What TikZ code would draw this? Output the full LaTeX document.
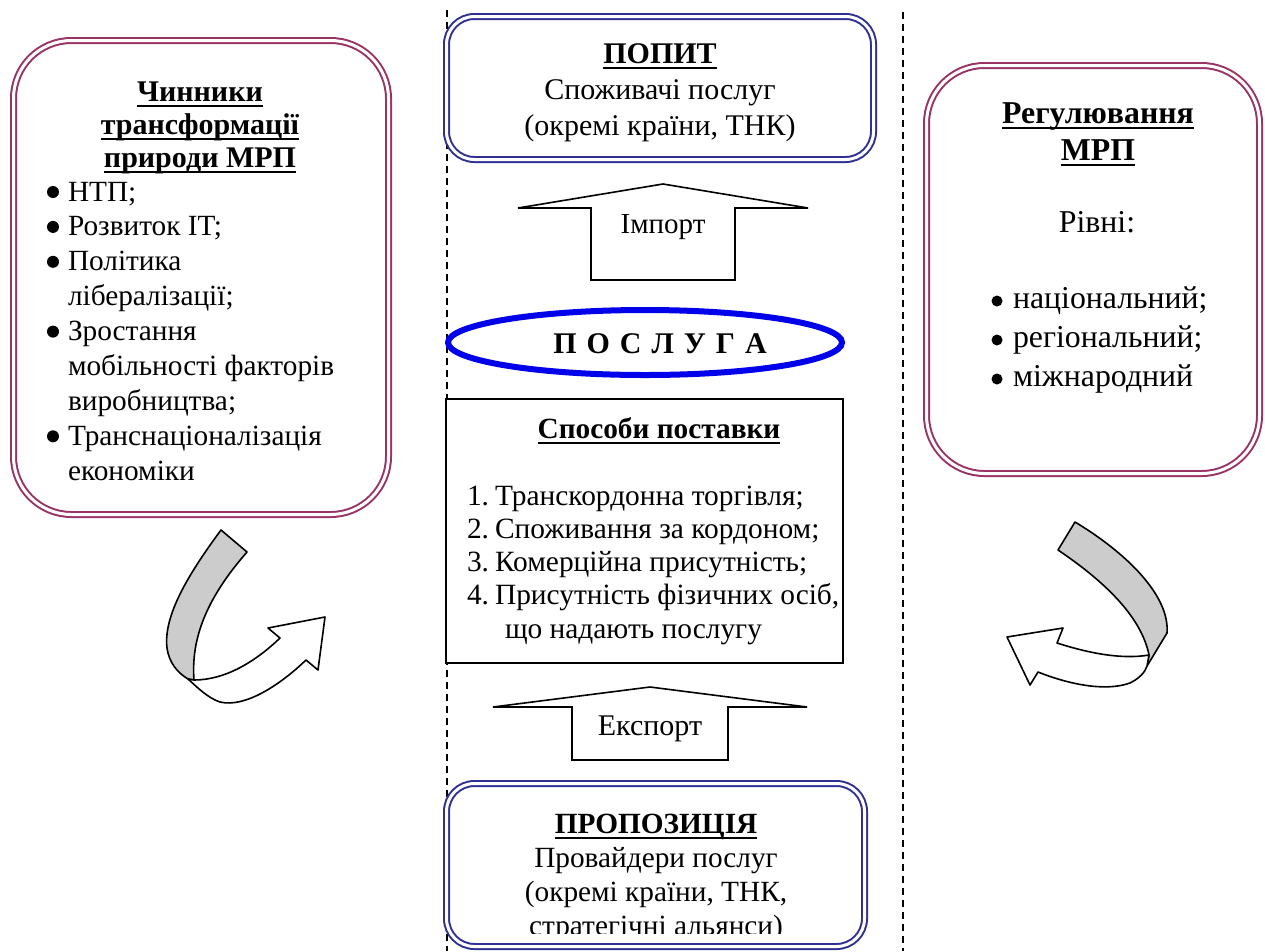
\documentclass[tikz,border=0pt]{standalone}
\usepackage{fontspec}
\setmainfont{Liberation Serif}
\usetikzlibrary{shapes.geometric}
\definecolor{mroon}{RGB}{153,51,102}
\definecolor{bnavy}{RGB}{46,49,146}
\definecolor{eblue}{RGB}{0,0,235}
\definecolor{cgray}{RGB}{204,204,204}
\newcommand\myul[1]{\setbox0=\hbox{#1}\rlap{\rule[-6pt]{\wd0}{2.2pt}}\box0}
\newcommand\clist[1]{\vtop{\halign{\hfil##\hfil\cr#1\crcr}}}
\newcommand\llist[1]{\vtop{\halign{##\hfil\cr#1\crcr}}}
\begin{document}
\begin{tikzpicture}[x=1pt,y=-1pt,
  txt/.style={inner sep=0pt, outer sep=0pt, font=\fontsize{30}{36}\selectfont},
  mbox/.style={rectangle, draw=mroon, double=white, double distance=3pt, line width=2pt, rounded corners=58pt, fill=white, inner sep=0pt},
  bbox/.style={rectangle, draw=bnavy, double=white, double distance=3pt, line width=2pt, rounded corners=28pt, fill=white, inner sep=0pt},
  dl/.style={draw=black, line width=1.4pt, dash pattern=on 7pt off 5pt},
  arrw/.style={draw=black, line width=1.6pt, fill=white, line join=miter},
  carr/.style={draw=black, line width=1.6pt, line join=round},
  dot/.style={fill=black}]
\useasboundingbox (0,0) rectangle (1265,951);
\fill[white] (0,0) rectangle (1265,951);
% dashed separators
\coordinate (d1t) at (447,10); \coordinate (d1b) at (447,951);
\coordinate (d2t) at (903,12); \coordinate (d2b) at (903,951);
\draw[dl] (d1t) -- (d1b);
\draw[dl] (d2t) -- (d2b);
% containers
\node[mbox, minimum width=375pt, minimum height=474pt] (lbox) at (201,277.5) {};
\node[bbox, minimum width=427pt, minimum height=143pt] (tbox) at (660,88) {};
\node[bbox, minimum width=418pt, minimum height=163pt] (bbx) at (655.5,865) {};
\node[mbox, minimum width=333pt, minimum height=408pt] (rbox) at (1093,269.5) {};
\node[rectangle, draw=black, line width=1.5pt, fill=white, minimum width=397pt, minimum height=264pt, inner sep=0pt] (sbox) at (644.5,531) {};
\node[ellipse, draw=eblue, line width=6pt, fill=white, minimum width=394pt, minimum height=65pt, inner sep=0pt] (ell) at (645,342.5) {};
% import / export arrows
\draw[arrw] (518,208) -- (663,184) -- (808,208) -- (735,208) -- (735,280) -- (591,280) -- (591,208) -- cycle;
\node[txt, anchor=base, font=\fontsize{29}{36}\selectfont] (imp) at (663,233) {Імпорт};
\draw[arrw] (493,707) -- (650,687) -- (807,707) -- (728,707) -- (728,760) -- (572,760) -- (572,707) -- cycle;
\node[txt, anchor=base] (exp) at (650,735) {Експорт};
% texts
\node[txt, anchor=base] (tt) at (660,63) {\clist{\myul{\textbf{ПОПИТ}}\cr Споживачі послуг\cr (окремі країни, ТНК)}};
\begin{scope}
\clip (440,770) rectangle (880,933);
\node[txt, anchor=base, font=\fontsize{29.3}{34}\selectfont] (bt) at (656,833) {\clist{\myul{\textbf{ПРОПОЗИЦІЯ}}\cr Провайдери послуг\cr (окремі країни, ТНК,\cr стратегічні альянси)}};
\end{scope}
\node[txt, anchor=base, font=\fontsize{30}{33}\selectfont] (lt) at (200,101) {\clist{\myul{\textbf{Чинники}}\cr \myul{\textbf{трансформації}}\cr \myul{\textbf{природи МРП}}}};
\node[txt, anchor=base west, font=\fontsize{29.3}{34.9}\selectfont] (lb) at (68,201) {\llist{НТП;\cr Розвиток IT;\cr Політика\cr лібералізації;\cr Зростання\cr мобільності факторів\cr виробництва;\cr Транснаціоналізація\cr економіки}};
\foreach \yy in {192, 226.9, 261.8, 331.6, 436.3} \fill[dot] (53,\yy) circle (6pt);
\node[txt, anchor=base, font=\fontsize{31.8}{37}\selectfont] (rt) at (1098,123) {\clist{\myul{\textbf{Регулювання}}\cr\myul{\textbf{МРП}}}};
\node[txt, anchor=base, font=\fontsize{31.8}{37}\selectfont] (rl) at (1097,232) {Рівні:};
\node[txt, anchor=base west, font=\fontsize{31.8}{39}\selectfont] (rb) at (1013,308) {\llist{національний;\cr регіональний;\cr міжнародний}};
\foreach \yy in {301, 340, 379} \fill[dot] (997,\yy) circle (5.5pt);
\node[txt, anchor=base, font=\fontsize{29.3}{36}\selectfont] (st) at (659,438) {\myul{\textbf{Способи поставки}}};
\node[txt, anchor=base west, font=\fontsize{29.4}{33.3}\selectfont] (sl) at (467,505) {\llist{1.\hspace{6pt}Транскордонна торгівля;\cr 2.\hspace{6pt}Споживання за кордоном;\cr 3.\hspace{6pt}Комерційна присутність;\cr 4.\hspace{6pt}Присутність фізичних осіб,\cr\hspace*{38pt}що надають послугу}};
\node[txt, anchor=base] (pt) at (660,353) {\textbf{П\hspace{10pt}О\hspace{10pt}С\hspace{10pt}Л\hspace{10pt}У\hspace{10pt}Г\hspace{10pt}А}};
% curved arrows
\draw[carr, fill=cgray] (221,530) .. controls (190,572) and (163,615) .. (167,648) .. controls (169,663) and (178,673) .. (188,679) -- (194,680) .. controls (191,640) and (205,600) .. (247,552) -- cycle;
\draw[carr, fill=white] (194,680) .. controls (225,680) and (255,662) .. (280,638) -- (268,628) -- (325,617) -- (318,670) -- (306,660) .. controls (280,685) and (245,708) .. (220,702) .. controls (208,698) and (198,688) .. (188,679) -- cycle;
\draw[carr, fill=cgray] (1075,522) .. controls (1125,552) and (1170,595) .. (1167,633) -- (1147,666) -- (1149,655) .. controls (1142,620) and (1110,585) .. (1058,550) -- cycle;
\draw[carr, fill=white] (1149,655) .. controls (1120,660) and (1085,652) .. (1057,643) -- (1063,628) -- (1007,637) -- (1030,685) -- (1038,672) .. controls (1068,684) and (1105,692) .. (1130,683) .. controls (1140,678) and (1145,672) .. (1147,666) -- cycle;
\end{tikzpicture}
\end{document}
